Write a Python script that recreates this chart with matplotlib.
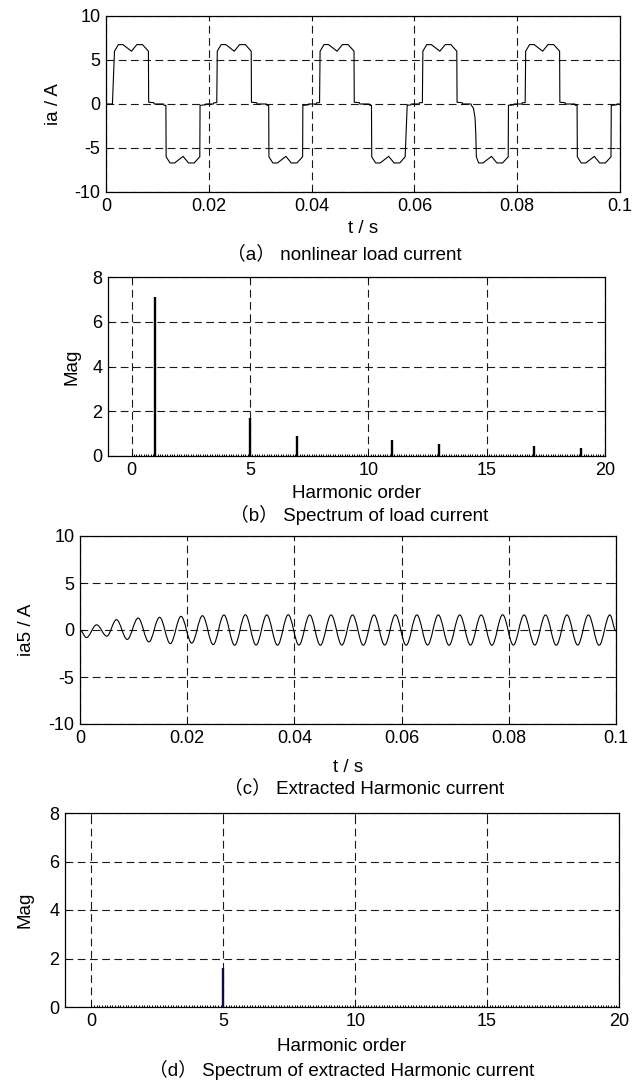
import numpy as np
import matplotlib
matplotlib.use('Agg')
import matplotlib.pyplot as plt
from matplotlib.path import Path
from matplotlib.patches import PathPatch

plt.rcParams['font.family'] = ['Liberation Sans', 'Noto Sans CJK SC', 'DejaVu Sans']
plt.rcParams['font.size'] = 13
plt.rcParams['axes.unicode_minus'] = False

# (a) load current, breakpoints (t in ms, i in A), one list per 20 ms cycle
ia_c0 = [(0.0, 0), (1.25, 0), (1.65, 6.0), (2.4, 6.75), (3.3, 6.75), (4.95, 6.0), (6.0, 6.75),
         (7.1, 6.75), (8.25, 6.0), (8.3, 0.2), (9.3, 0.15), (9.4, 0), (11.2, 0), (11.3, -0.15),
         (11.65, -0.15), (11.7, -6.0), (12.45, -6.7), (13.35, -6.7), (15.0, -5.95), (16.05, -6.7),
         (17.15, -6.7), (18.25, -6.0), (18.3, -0.15), (19.3, -0.1), (19.4, 0), (20.9, 0),
         (21.0, 0.15), (21.55, 0.15)]
ia_c1 = [(21.65, 6.0), (22.4, 6.75), (23.3, 6.75), (24.95, 6.0), (26.0, 6.75), (27.1, 6.75),
         (28.25, 6.0), (28.3, 0.2), (29.3, 0.15), (29.4, 0), (31.2, 0), (31.3, -0.15),
         (31.65, -0.15), (31.7, -6.0), (32.45, -6.7), (33.35, -6.7), (35.0, -5.95), (36.05, -6.7),
         (37.15, -6.7), (38.25, -6.0), (38.3, -0.15), (39.3, -0.1), (39.4, 0), (40.9, 0),
         (41.0, 0.15), (41.55, 0.15)]
ia_c2 = [(41.65, 6.0), (42.4, 6.75), (43.3, 6.75), (44.95, 6.0), (46.0, 6.75), (47.1, 6.75),
         (48.25, 6.0), (48.3, 0.2), (49.3, 0.15), (49.4, 0), (51.2, 0), (51.3, -0.15),
         (51.65, -0.15), (51.7, -6.0), (52.45, -6.7), (53.35, -6.7), (55.0, -5.95), (56.05, -6.7),
         (57.15, -6.7), (58.2, -6.0), (58.6, -0.15), (59.3, -0.1), (59.4, 0), (60.9, 0),
         (61.0, 0.15), (61.55, 0.15)]
ia_c3 = [(61.65, 6.0), (62.4, 6.75), (63.3, 6.75), (64.95, 6.0), (66.0, 6.75), (67.1, 6.75),
         (68.25, 6.0), (68.3, 0.2), (69.3, 0.15), (69.4, 0), (71.0, 0), (71.1, -0.15),
         (71.5, -0.5), (71.8, -1.6), (71.95, -3.5), (72.05, -6.0), (72.5, -6.7), (73.35, -6.7),
         (75.0, -5.95), (76.05, -6.7), (77.15, -6.7), (78.25, -6.0), (78.3, -0.15), (79.3, -0.1),
         (79.4, 0), (80.9, 0), (81.0, 0.15), (81.55, 0.15)]
ia_c4 = [(81.65, 6.0), (82.4, 6.75), (83.3, 6.75), (84.95, 6.0), (86.0, 6.75), (87.1, 6.75),
         (88.25, 6.0), (88.3, 0.2), (89.3, 0.15), (89.4, 0), (91.2, 0), (91.3, -0.15),
         (91.65, -0.15), (91.7, -6.0), (92.45, -6.7), (93.35, -6.7), (95.0, -5.95), (96.05, -6.7),
         (97.15, -6.7), (98.25, -6.0), (98.3, -0.15), (99.3, -0.1), (99.4, 0), (100.0, 0)]

# (b) spectrum of load current
harm_order = [1, 5, 7, 11, 13, 17, 19]
harm_mag = [7.1, 1.68, 0.88, 0.7, 0.52, 0.44, 0.37]
floor_bins = np.arange(0, 20.01, 0.1)
floor_mag = 0.07

# (c) extracted 5th harmonic, peaks and troughs (t in ms, i in A)
ia5_ext = [(0.0, 0.0), (1.2, -0.8), (3.1, 0.55), (5.0, -0.65), (6.8, 1.1), (8.8, -1.0),
           (10.85, 1.27), (12.85, -1.27), (14.85, 1.35), (16.85, -1.45), (18.85, 1.45),
           (20.85, -1.4), (22.85, 1.52), (24.85, -1.55), (26.85, 1.6), (28.85, -1.62),
           (30.85, 1.62), (32.85, -1.6), (34.85, 1.6), (36.85, -1.62), (38.85, 1.62),
           (40.85, -1.6), (42.85, 1.6), (44.85, -1.62), (46.85, 1.6), (48.85, -1.6),
           (50.85, 1.6), (52.85, -1.62), (54.85, 1.6), (56.85, -1.6), (58.85, 1.62),
           (60.85, -1.62), (62.85, 1.6), (64.85, -1.6), (66.85, 1.6), (68.85, -1.62),
           (70.85, 1.6), (72.85, -1.6), (74.85, 1.6), (76.85, -1.62), (78.85, 1.62),
           (80.85, -1.6), (82.85, 1.6), (84.85, -1.6), (86.85, 1.6), (88.85, -1.62),
           (90.85, 1.6), (92.85, -1.6), (94.85, 1.6), (96.85, -1.62), (98.85, 1.6),
           (100.0, -0.1)]

# (d) spectrum of extracted current
ext_order = [5]
ext_mag = [1.62]

captions = ['（a） nonlinear load current', '（b） Spectrum of load current',
            '（c） Extracted Harmonic current', '（d） Spectrum of extracted Harmonic current']

W, H = 632, 1082
fig = plt.figure(figsize=(W / 100, H / 100), dpi=100)


def make_ax(l, r, t, b):
    ax = fig.add_axes([l / W, 1 - b / H, (r - l) / W, (b - t) / H])
    ax.grid(True, color='0.1', lw=0.8, ls=(0, (7, 4)))
    ax.set_axisbelow(False)
    for s in ax.spines.values():
        s.set_linewidth(0.9)
        s.set_zorder(5)
    ax.tick_params(direction='in', length=3, width=0.6, top=True, right=True, pad=4,
                   labelsize=13)
    return ax


# (a)
ax1 = make_ax(106, 620, 16, 192)
ia = np.array(ia_c0 + ia_c1 + ia_c2 + ia_c3 + ia_c4)
ax1.plot(ia[:, 0] / 1000, ia[:, 1], color='k', lw=0.8, zorder=3)
ax1.set_xlim(0, 0.1)
ax1.set_ylim(-10, 10)
ax1.set_xticks([0, 0.02, 0.04, 0.06, 0.08, 0.1])
ax1.set_xticklabels(['0', '0.02', '0.04', '0.06', '0.08', '0.1'])
ax1.set_yticks([-10, -5, 0, 5, 10])
ax1.set_xlabel('t / s', va='center', fontsize=13.5)
ax1.xaxis.set_label_coords(0.5, -0.205)
ax1.set_ylabel('ia / A', va='center', fontsize=13.5)
ax1.yaxis.set_label_coords(-0.103, 0.5)

# (b)
ax2 = make_ax(108, 605, 277, 456)
ax2.vlines(floor_bins, 0, floor_mag, color='k', lw=0.7, zorder=3)
ax2.vlines(harm_order, 0, harm_mag, color='k', lw=1.7, zorder=4)
ax2.set_xlim(-1, 20)
ax2.set_ylim(0, 8)
ax2.set_xticks([0, 5, 10, 15, 20])
ax2.set_yticks([0, 2, 4, 6, 8])
ax2.set_xlabel('Harmonic order', va='center', fontsize=13.5)
ax2.xaxis.set_label_coords(0.5, -0.207)
ax2.set_ylabel('Mag', va='center', fontsize=13.5)
ax2.yaxis.set_label_coords(-0.072, 0.5)

# (c)
ax3 = make_ax(80, 616, 536, 724)
ext = [(t / 1000, v) for t, v in ia5_ext]
verts = [ext[0]]
codes = [Path.MOVETO]
for (t0, v0), (t1, v1) in zip(ext[:-1], ext[1:]):
    d = 0.36 * (t1 - t0)
    verts += [(t0 + d, v0), (t1 - d, v1), (t1, v1)]
    codes += [Path.CURVE4] * 3
ax3.add_patch(PathPatch(Path(verts, codes), fill=False, ec='k', lw=0.8, zorder=3))
ax3.set_xlim(0, 0.1)
ax3.set_ylim(-10, 10)
ax3.set_xticks([0, 0.02, 0.04, 0.06, 0.08, 0.1])
ax3.set_xticklabels(['0', '0.02', '0.04', '0.06', '0.08', '0.1'])
ax3.set_yticks([-10, -5, 0, 5, 10])
ax3.set_xlabel('t / s', va='center', fontsize=13.5)
ax3.xaxis.set_label_coords(0.5, -0.229)
ax3.set_ylabel('ia5 / A', va='center', fontsize=13.5)
ax3.yaxis.set_label_coords(-0.099, 0.5)

# (d)
ax4 = make_ax(65, 619, 813, 1007)
ax4.vlines(floor_bins, 0, floor_mag, color='k', lw=0.7, zorder=3)
ax4.vlines(ext_order, 0, ext_mag, color='#0b0b4a', lw=1.7, zorder=4)
ax4.set_xlim(-1, 20)
ax4.set_ylim(0, 8)
ax4.set_xticks([0, 5, 10, 15, 20])
ax4.set_yticks([0, 2, 4, 6, 8])
ax4.set_xlabel('Harmonic order', va='center', fontsize=13.5)
ax4.xaxis.set_label_coords(0.5, -0.206)
ax4.set_ylabel('Mag', va='center', fontsize=13.5)
ax4.yaxis.set_label_coords(-0.072, 0.5)

# captions under each panel
for (x, y), txt in zip([(344, 254), (359, 515), (364, 788), (342, 1070)], captions):
    fig.text(x / W, 1 - y / H, txt, ha='center', va='center', fontsize=13.5)

fig.savefig('out.png', dpi=100)
